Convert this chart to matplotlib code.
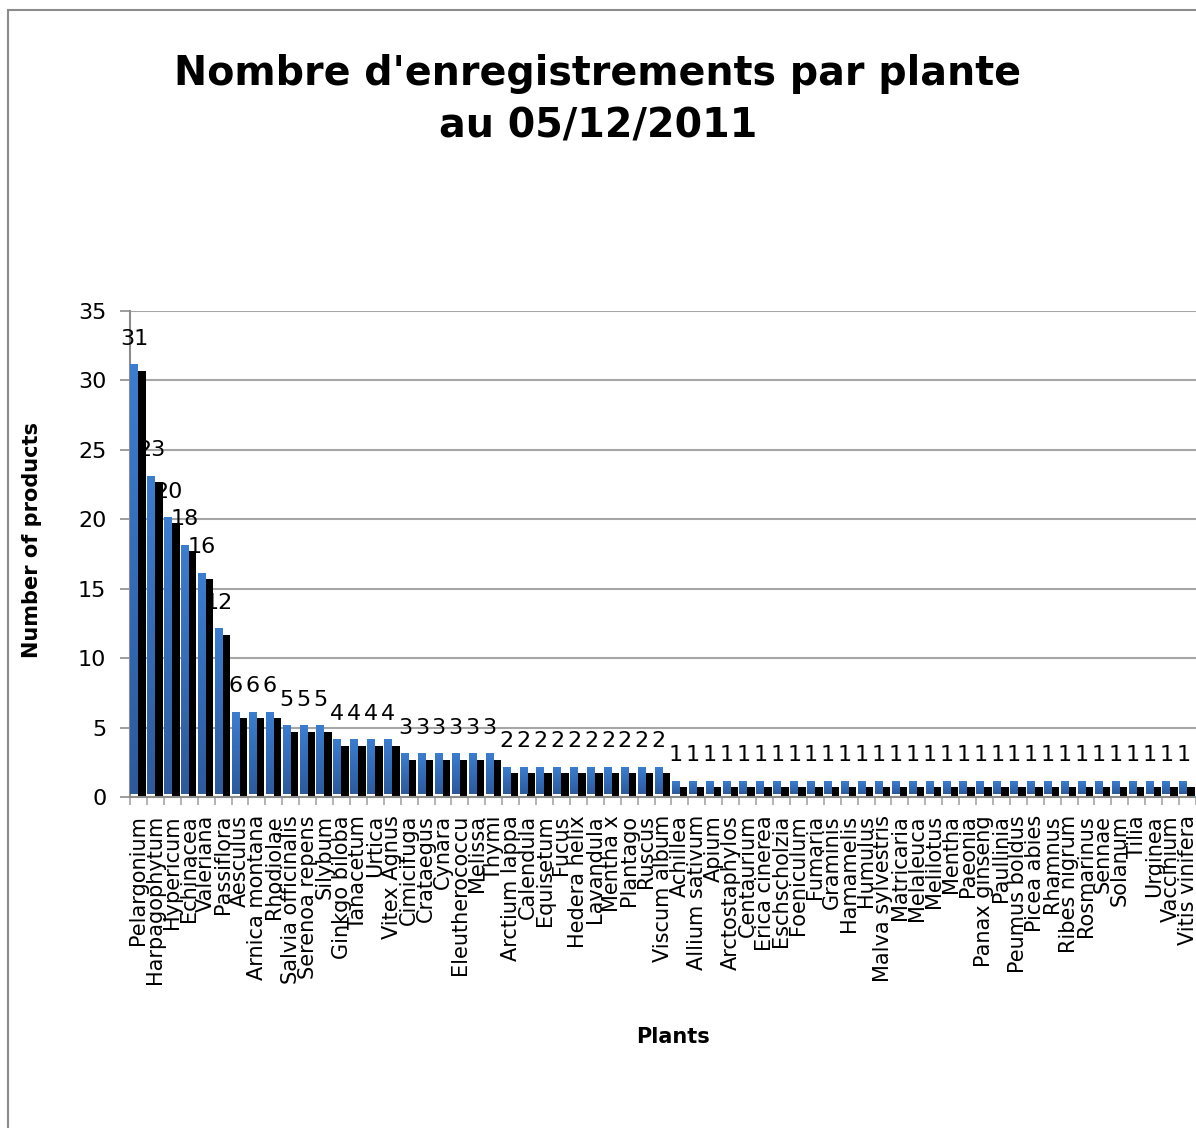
import matplotlib.pyplot as plt
from matplotlib.patches import Rectangle
from matplotlib.colors import LinearSegmentedColormap
import numpy as np

plants = ["Pelargonium", "Harpagophytum", "Hypericum", "Echinacea", "Valeriana",
          "Passiflora", "Aesculus", "Arnica montana", "Rhodiolae", "Salvia officinalis",
          "Serenoa repens", "Silybum", "Ginkgo biloba", "Tanacetum", "Urtica",
          "Vitex Agnus", "Cimicifuga", "Crataegus", "Cynara", "Eleutherococcu",
          "Melissa", "Thymi", "Arctium lappa", "Calendula", "Equisetum", "Fucus",
          "Hedera helix", "Lavandula", "Mentha x", "Plantago", "Ruscus",
          "Viscum album", "Achillea", "Allium sativum", "Apium", "Arctostaphylos",
          "Centaurium", "Erica cinerea", "Eschscholzia", "Foeniculum", "Fumaria",
          "Graminis", "Hamamelis", "Humulus", "Malva sylvestris", "Matricaria",
          "Melaleuca", "Melilotus", "Mentha", "Paeonia", "Panax ginseng",
          "Paullinia", "Peumus boldus", "Picea abies", "Rhamnus", "Ribes nigrum",
          "Rosmarinus", "Sennae", "Solanum", "Tilia", "Urginea", "Vaccinium",
          "Vitis vinifera"]
counts = [31, 23, 20, 18, 16, 12, 6, 6, 6, 5, 5, 5, 4, 4, 4, 4,
          3, 3, 3, 3, 3, 3, 2, 2, 2, 2, 2, 2, 2, 2, 2, 2] + [1] * 31

title = "Nombre d'enregistrements par plante\nau 05/12/2011"
ytitle = "Number of products"
xtitle = "Plants"

W, H = 1196, 1128
fig = plt.figure(figsize=(W / 100, H / 100), dpi=100)
plt.rcParams['font.family'] = ['DejaVu Sans']

# outer chart frame (cut off at right/bottom like the source)
fig.patches.append(Rectangle((8 / W, -0.1), 1.2, 1 - 10 / H + 0.1, transform=fig.transFigure,
                             fill=False, edgecolor='#8c8c8c', lw=1.5))

ax = fig.add_axes([130 / W, 1 - 797 / H, 1 - 130 / W, (797 - 311) / H])

x = np.arange(len(plants))
bw = 0.46
# black "shadow" behind each bar, then the blue bar
ax.bar(x - 0.5 + 0.02 + bw + bw / 2, np.array(counts) - 0.3, width=bw * 0.95,
       color='black', zorder=2)
blue = ax.bar(x - 0.5 + 0.02 + bw / 2, np.array(counts) + 0.15 - 0.25, bottom=0.25,
              width=bw, color='#3672c0', zorder=3)

# vertical gradient inside the blue bars
cmap = LinearSegmentedColormap.from_list('bluegrad', ['#2c5a9c', '#3b7dd0'])
grad = np.linspace(0, 1, 256).reshape(-1, 1)
for p in blue.patches:
    x0, y0 = p.get_x(), p.get_y()
    im = ax.imshow(grad, cmap=cmap, origin='lower', aspect='auto', zorder=3.5,
                   extent=[x0, x0 + p.get_width(), y0, y0 + p.get_height()])
    im.set_clip_path(p)

for xi, c in zip(x, counts):
    ax.text(xi - 0.5 + 0.02 + bw / 2, c + 2.0, str(c), ha='center', va='center',
            fontsize=16, zorder=4)

ax.set_xlim(-0.5, len(plants) - 0.5)
ax.set_ylim(0, 35)
ax.set_yticks(range(0, 36, 5))
ax.yaxis.grid(True, color='#a6a6a6', lw=1.5, zorder=0)
ax.set_axisbelow(True)
ax.tick_params(axis='y', labelsize=16, length=7, width=1.2, color='#8c8c8c', pad=10)

ax.set_xticks(x)
ax.set_xticklabels(plants, rotation=90, fontsize=15)
ax.tick_params(axis='x', which='major', length=0, pad=13)
ax.set_xticks(np.arange(len(plants) + 1) - 0.5, minor=True)
ax.tick_params(axis='x', which='minor', length=6, width=1.2, color='#a6a6a6')

for s in ['top', 'right']:
    ax.spines[s].set_visible(False)
for s in ['left', 'bottom']:
    ax.spines[s].set_color('#8c8c8c')
    ax.spines[s].set_linewidth(1.5)

fig.text(0.5, 1 - 100 / H, title, ha='center', va='center', fontsize=28.5,
         fontweight='bold', linespacing=1.4)
fig.text(32 / W, 1 - 540 / H, ytitle, ha='center', va='center', rotation=90,
         fontsize=15, fontweight='bold')
fig.text(673 / W, 1 - 1037 / H, xtitle, ha='center', va='center',
         fontsize=15, fontweight='bold')

fig.savefig('out.png', dpi=100, facecolor='white')
